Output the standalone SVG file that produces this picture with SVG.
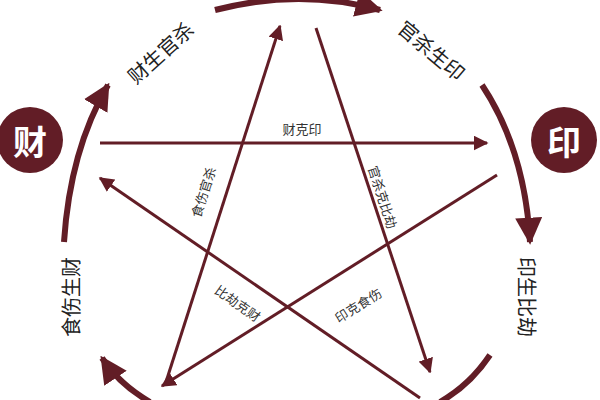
<svg xmlns="http://www.w3.org/2000/svg" width="600" height="400" viewBox="0 0 600 400">
<style>
.arc{fill:none;stroke:#621d26;stroke-width:6}
.ln{fill:none;stroke:#621d26;stroke-width:3}
.big{font-family:"Noto Sans CJK SC","Noto Sans",sans-serif;font-size:20px;fill:#222;text-anchor:middle;dominant-baseline:central}
.sm{font-family:"Noto Sans CJK SC","Noto Sans",sans-serif;font-size:13px;fill:#333;text-anchor:middle;dominant-baseline:central}
.nd{fill:#621d26}
.nt{font-family:"Noto Sans CJK SC",sans-serif;font-size:34px;font-weight:bold;fill:#fff;text-anchor:middle;dominant-baseline:central}
</style>
<defs>
<marker id="ah" viewBox="0 0 10 10" refX="9" refY="5" markerWidth="5" markerHeight="5" orient="auto" markerUnits="strokeWidth"><path d="M0,0L10,5L0,10z" fill="#621d26"/></marker>
<marker id="ab" viewBox="0 0 10 10" refX="9" refY="5" markerWidth="4.5" markerHeight="4.5" orient="auto" markerUnits="strokeWidth"><path d="M0,0L10,5L0,10z" fill="#621d26"/></marker>
</defs>
<rect width="600" height="400" fill="#fff"/>
<g id="connectors">
<path class="arc" d="M215,10 Q300,-12 380,10" marker-end="url(#ab)"/>
<path class="arc" d="M482,85 Q525,150 530,242" marker-end="url(#ab)"/>
<path class="arc" d="M490,355 Q470,385 440,402"/>
<path class="arc" d="M150,402 Q120,385 102,358" marker-end="url(#ab)"/>
<path class="arc" d="M64,242 Q70,150 108,85" marker-end="url(#ab)"/>
<line class="ln" x1="100" y1="143" x2="487" y2="143" marker-end="url(#ah)"/>
<line class="ln" x1="165" y1="385" x2="280" y2="26" marker-end="url(#ah)"/>
<line class="ln" x1="316" y1="28" x2="430" y2="372" marker-end="url(#ah)"/>
<line class="ln" x1="420" y1="398" x2="100" y2="178" marker-end="url(#ah)"/>
<line class="ln" x1="497" y1="175" x2="162" y2="386" marker-end="url(#ah)"/>
</g>
<g id="node-cai"><circle class="nd" cx="30" cy="140" r="33"/><text class="nt" x="30" y="140">财</text></g>
<g id="node-yin"><circle class="nd" cx="564" cy="140" r="33"/><text class="nt" x="564" y="140">印</text></g>
<g id="labels">
<text class="big" transform="translate(160,52) rotate(-42)">财生官杀</text>
<text class="big" transform="translate(432,50) rotate(40)">官杀生印</text>
<text class="big" transform="translate(527,297) rotate(90)">印生比劫</text>
<text class="big" transform="translate(70,297) rotate(-90)">食伤生财</text>
<text class="sm" x="302" y="128">财克印</text>
<text class="sm" transform="translate(203,192) rotate(-72)">食伤官杀</text>
<text class="sm" transform="translate(383,197) rotate(72)">官杀克比劫</text>
<text class="sm" transform="translate(238,303) rotate(35)">比劫克财</text>
<text class="sm" transform="translate(358,305) rotate(-32)">印克食伤</text>
</g>
</svg>
